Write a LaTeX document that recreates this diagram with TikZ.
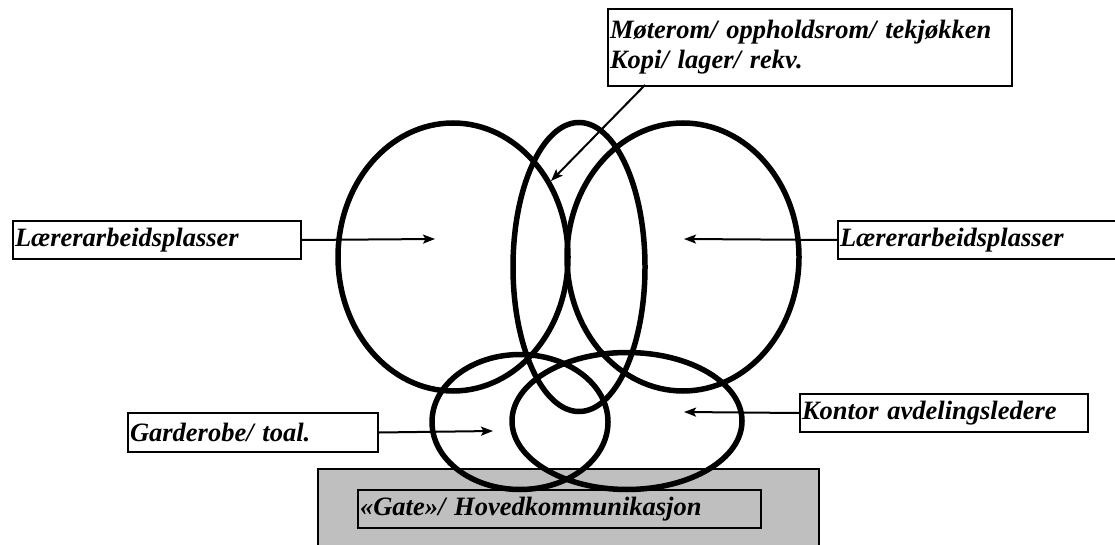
\documentclass[tikz,border=0pt]{standalone}
\usepackage{fontspec}
\setmainfont{Liberation Serif}
\usetikzlibrary{arrows.meta,shapes.geometric,positioning}
\tikzset{
    tag/.style={
        rectangle,
        draw=black,
        line width=2pt,
        anchor=north west,
        align=left,
        inner xsep=2pt,
        inner ysep=0pt,
        font=\bfseries\itshape\fontsize{26.5}{30}\selectfont,
    },
    ring/.style={
        ellipse,
        draw=black,
        line width=5.5pt,
        inner sep=0pt,
    },
    base/.style={
        fill=black!25,
    },
    every edge/.style={
        draw,
        -{Stealth[length=12pt,width=9pt,inset=2.5pt]},
        line width=2pt,
    },
}
\begin{document}
\begin{tikzpicture}[x=1pt,y=-1pt]
    \useasboundingbox (0,0) rectangle (1115,545);
    % gate floor
    \draw[base, line width=2pt] (318,469) rectangle (819,560);
    \node[tag, base, text width=399pt, minimum height=38pt] (gate) at (357,489) {«Gate»/ Hovedkommunikasjon};
    % zones
    \node[ring, minimum width=230pt, minimum height=268pt] (lring) at (453,257) {};
    \node[ring, minimum width=232pt, minimum height=268pt] (rring) at (683,257) {};
    \node[ring, minimum width=132pt, minimum height=289pt] (mring) at (579,267) {};
    \node[ring, minimum width=176pt, minimum height=135pt] (gring) at (520,422) {};
    \node[ring, minimum width=230pt, minimum height=137pt] (kring) at (627,421) {};
    % labels
    \node[tag, text width=284pt, minimum height=38pt] (lbox) at (12,220) {Lærerarbeidsplasser};
    \node[tag, text width=396pt, minimum height=38pt] (rbox) at (837,220) {Lærerarbeidsplasser};
    \node[tag, text width=246pt, minimum height=39pt] (gbox) at (127,412) {Garderobe/ toal.};
    \node[tag, text width=284pt, minimum height=38pt] (kbox) at (799,393) {Kontor avdelingsledere};
    \node[tag, text width=400pt, minimum height=77pt] (mbox) at (607,8) {Møterom/ oppholdsrom/ tekjøkken\\Kopi/ lager/ rekv.};
    % pointers
    \coordinate (lpt) at (435,239);
    \coordinate (rpt) at (684,239);
    \coordinate (gpt) at (493,431);
    \coordinate (kpt) at (684,412);
    \coordinate (mpt) at (551,181);
    \coordinate (mfoot) at (645,85);
    \draw (lbox.east) edge (lpt);
    \draw (rbox.west) edge (rpt);
    \draw (gbox.east) edge (gpt);
    \draw (kbox.west) edge (kpt);
    \draw (mfoot) edge (mpt);
\end{tikzpicture}
\end{document}
